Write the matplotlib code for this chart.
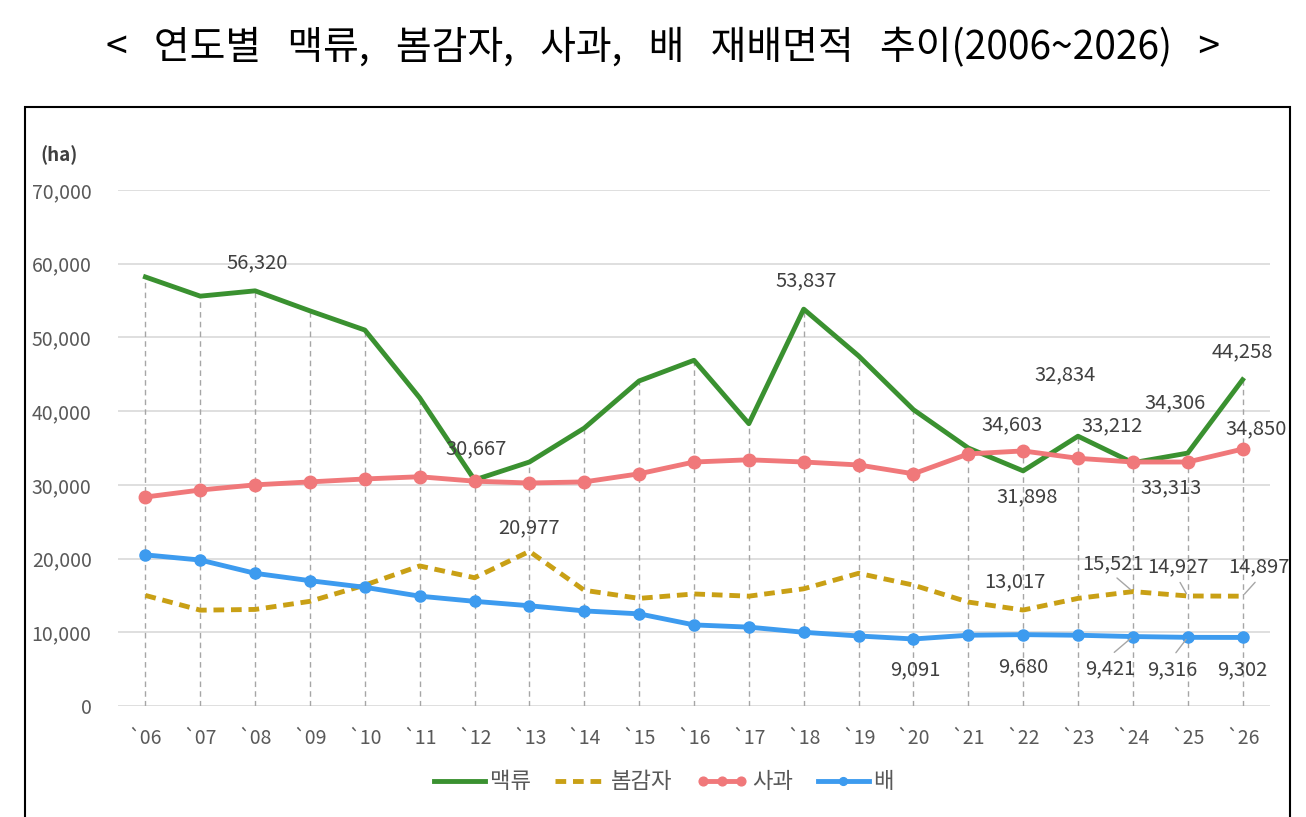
import matplotlib.pyplot as plt
from matplotlib.patches import Rectangle
from matplotlib.legend_handler import HandlerLine2D

plt.rcParams['font.family'] = ['Noto Sans CJK KR', 'DejaVu Sans']

years = ["`06", "`07", "`08", "`09", "`10", "`11", "`12", "`13", "`14", "`15", "`16",
         "`17", "`18", "`19", "`20", "`21", "`22", "`23", "`24", "`25", "`26"]
barley = [58200, 55600, 56320, 53600, 51000, 41800, 30667, 33100, 37700, 44100, 46900,
          38300, 53837, 47500, 40200, 35000, 31898, 36600, 33000, 34306, 44258]
potato = [15000, 13000, 13100, 14200, 16400, 19000, 17400, 20977, 15700, 14600, 15200,
          14900, 15900, 18000, 16400, 14100, 13017, 14600, 15521, 14927, 14897]
apple = [28350, 29300, 30000, 30400, 30800, 31100, 30500, 30250, 30400, 31500, 33100,
         33400, 33100, 32700, 31500, 34200, 34603, 33600, 33100, 33100, 34850]
pear = [20500, 19800, 18000, 17000, 16100, 14900, 14200, 13600, 12900, 12500, 11000,
        10700, 10000, 9500, 9091, 9600, 9680, 9600, 9421, 9316, 9302]

series_names = ["맥류", "봄감자", "사과", "배"]

# (series, index, text, dx px, dy px, leader line)
labels = [
    ("barley", 2, "56,320", 2, 28, False),
    ("barley", 6, "30,667", 2, 31, False),
    ("potato", 7, "20,977", 0, 24, False),
    ("barley", 12, "53,837", 2, 28, False),
    ("barley", 17, "32,834", -13, 61, False),
    ("apple", 16, "34,603", -11, 26, False),
    ("apple", 17, "33,212", 34, 33, False),
    ("barley", 19, "34,306", -13, 50, False),
    ("barley", 20, "44,258", 0, 28, False),
    ("apple", 20, "34,850", 14, 20, False),
    ("barley", 16, "31,898", 4, -26, False),
    ("barley", 18, "33,313", 38, -25, False),
    ("potato", 16, "13,017", -8, 28, False),
    ("potato", 18, "15,521", -20, 28, True),
    ("potato", 19, "14,927", -10, 29, True),
    ("potato", 20, "14,897", 16, 29, True),
    ("pear", 14, "9,091", 2, -31, False),
    ("pear", 16, "9,680", 0, -32, False),
    ("pear", 18, "9,421", -23, -32, True),
    ("pear", 19, "9,316", -15, -32, True),
    ("pear", 20, "9,302", 0, -32, False),
]

data = {"barley": barley, "potato": potato, "apple": apple, "pear": pear}

fig = plt.figure(figsize=(13.06, 8.17), dpi=100)
ax = fig.add_axes([118 / 1306, 1 - 706 / 817, (1270 - 118) / 1306, (706 - 190) / 817])

x = list(range(len(years)))

# drop lines
tops = [max(v) for v in zip(barley, potato, apple, pear)]
ax.vlines(x, 0, tops, colors="#a6a6a6", linestyles=(0, (4, 3)), linewidth=1, zorder=1)

ax.plot(x, barley, color="#3a9130", lw=3.5, label=series_names[0], zorder=3)
ax.plot(x, potato, color="#c9a015", lw=3.5, ls=(0, (2.2, 1.4)), label=series_names[1], zorder=3)
apple_line, = ax.plot(x, apple, color="#f0787a", lw=3.5, marker="o", ms=9,
                      label=series_names[2], zorder=3)
ax.plot(x, pear, color="#3d9bef", lw=3.5, marker="o", ms=8, label=series_names[3], zorder=3)

ax.set_xlim(-0.5, len(years) - 0.5)
ax.set_ylim(0, 70000)
ax.set_yticks(range(0, 70001, 10000))
ax.set_yticklabels([f"{v:,}" for v in range(0, 70001, 10000)])
ax.set_xticks(x)
ax.set_xticklabels(years)
ax.grid(axis="y", color="#d9d9d9", lw=1.2, zorder=0)
ax.set_axisbelow(True)
for s in ax.spines.values():
    s.set_visible(False)
ax.tick_params(length=0, labelsize=14, colors="#595959", pad=16)
ax.tick_params(axis="y", pad=19)

for key, i, txt, dx, dy, leader in labels:
    yv = data[key][i]
    ax.annotate(txt, (i, yv), xytext=(dx, dy), textcoords="offset pixels",
                ha="center", va="center", fontsize=14.5, color="#404040", zorder=5)
    if leader:
        ax.annotate("", (i, yv), xytext=(dx * 0.9, dy * 0.55), textcoords="offset pixels",
                    arrowprops=dict(arrowstyle="-", color="#a6a6a6", lw=1), zorder=4)

fig.text(59 / 1306, 1 - 155 / 817, "(ha)", fontsize=13.5, color="#404040",
         ha="center", va="center", fontweight="bold")

fig.text(663 / 1306, 1 - 48 / 817,
         "<   연도별   맥류,   봄감자,   사과,   배   재배면적   추이(2006~2026)   >",
         fontsize=28, ha="center", va="center", color="black")

fig.patches.append(Rectangle((25 / 1306, -0.01), (1290 - 25) / 1306, (817 - 107) / 817 + 0.01,
                             transform=fig.transFigure, fill=False, lw=1.5, ec="black"))

ax.legend(loc="center", bbox_to_anchor=(664 / 1306, 1 - 782 / 817), bbox_transform=fig.transFigure,
          ncol=4, frameon=False, fontsize=16, handlelength=2.3, handletextpad=0.2,
          columnspacing=1.1, labelcolor="#595959", markerscale=0.7,
          handler_map={apple_line: HandlerLine2D(numpoints=3)})

fig.savefig("out.png", dpi=100)
